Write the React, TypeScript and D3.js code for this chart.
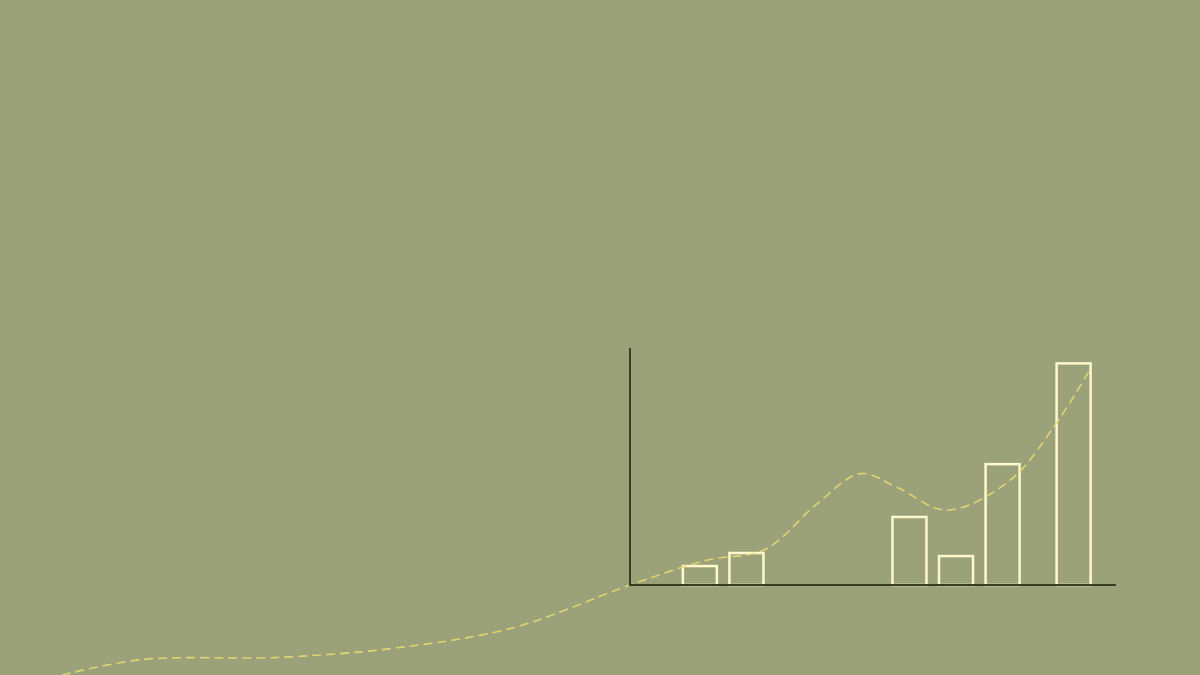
import React from "react";
import * as d3 from "d3";

// bar positions (x units) and heights (y units, 0–100 = axis height)
const barX = [3, 5, 12, 14, 16, 19.05];
const barValues = [8, 13.5, 28.7, 12.2, 51, 93.5];

// dashed trend line
const trendX = [-24.4, -21, -15, -10, -5, 0, 3.3, 5.8, 8, 9.9, 11.5, 13.6, 16.3, 18.2, 19.7];
const trendY = [-38, -31.5, -30.5, -26.5, -18, 0, 10.5, 15, 34, 47, 41, 31.6, 44, 66.7, 90];

const W = 1200;
const H = 675;
const BG = "#9ba279";

const App: React.FC = () => {
  const x = d3.scaleLinear().domain([0, 20.87]).range([630, 1116]);
  const y = d3.scaleLinear().domain([0, 100]).range([585, 348]);
  const barW = x(1.46) - x(0);

  const line = d3
    .line<number>()
    .x((d, i) => x(trendX[i]))
    .y((d) => y(d))
    .curve(d3.curveCatmullRom.alpha(0.5));

  return (
    <svg
      width={W}
      height={H}
      style={{ position: "fixed", left: 0, top: 0, display: "block" }}
    >
      <rect width={W} height={H} fill={BG} />

      {barValues.map((v, i) => (
        <rect
          key={i}
          x={x(barX[i]) - barW / 2}
          y={y(v)}
          width={barW}
          height={y(0) - y(v)}
          fill="none"
          stroke="#fdf9cc"
          strokeWidth={2.5}
        />
      ))}

      <path
        d={line(trendY) || ""}
        fill="none"
        stroke="#e8d872"
        strokeWidth={1.6}
        strokeDasharray="9 5"
        opacity={0.9}
      />

      <line x1={x(0)} x2={x(0)} y1={y(100)} y2={y(0) + 1} stroke="#3b3d22" strokeWidth={2} />
      <line x1={x(0)} x2={x(20.87)} y1={y(0)} y2={y(0)} stroke="#3b3d22" strokeWidth={2} />
    </svg>
  );
};

export default App;
